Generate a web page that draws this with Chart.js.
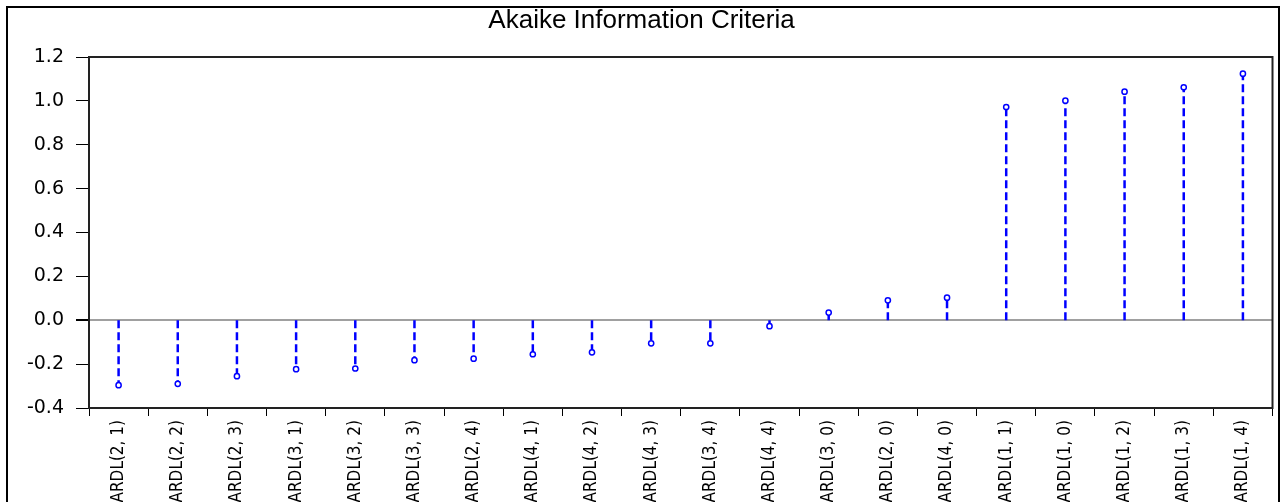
<!DOCTYPE html>
<html>
<head>
<meta charset="utf-8">
<script src="https://cdn.jsdelivr.net/npm/chart.js@4"></script>
<style>
  html, body { margin: 0; padding: 0; background: #fff; overflow: hidden; }
  #frame { position: absolute; left: 6px; top: 6px; width: 1270px; height: 540px; border: 2px solid #000; }
  canvas { display: block; }
</style>
</head>
<body>
<div id="frame"><canvas id="chart" width="1270" height="540"></canvas></div>
<script>
// modelos ARDL ordenados por AIC
const modelos = ['ARDL(2, 1)', 'ARDL(2, 2)', 'ARDL(2, 3)', 'ARDL(3, 1)', 'ARDL(3, 2)',
  'ARDL(3, 3)', 'ARDL(2, 4)', 'ARDL(4, 1)', 'ARDL(4, 2)', 'ARDL(4, 3)',
  'ARDL(3, 4)', 'ARDL(4, 4)', 'ARDL(3, 0)', 'ARDL(2, 0)', 'ARDL(4, 0)',
  'ARDL(1, 1)', 'ARDL(1, 0)', 'ARDL(1, 2)', 'ARDL(1, 3)', 'ARDL(1, 4)'];
const aic = [-0.296, -0.290, -0.255, -0.223, -0.220,
  -0.182, -0.175, -0.155, -0.146, -0.105,
  -0.105, -0.027, 0.035, 0.091, 0.103,
  0.972, 1.001, 1.042, 1.062, 1.124];
const yTicks = [-0.4, -0.2, 0.0, 0.2, 0.4, 0.6, 0.8, 1.0, 1.2];

// lineas verticales: 0 -> valor, con null para cortar
const stems = [];
modelos.forEach((m, i) => {
  stems.push({ x: m, y: 0 });
  stems.push({ x: m, y: aic[i] });
  stems.push({ x: m, y: null });
});

// marco del area del grafico
const boxPlugin = {
  id: 'box',
  afterDraw(chart) {
    const a = chart.chartArea;
    const c = chart.ctx;
    c.save();
    c.strokeStyle = '#222';
    c.lineWidth = 2;
    c.strokeRect(a.left, a.top, a.right - a.left, a.bottom - a.top);
    c.restore();
  }
};

const ctx = document.getElementById('chart').getContext('2d');
const myChart = new Chart(ctx, {
  type: 'line',
  data: {
    labels: modelos,
    datasets: [
      {
        data: aic,
        showLine: false,
        pointStyle: 'circle',
        pointRadius: 2.6,
        pointBorderWidth: 1.5,
        pointBorderColor: '#0000ff',
        pointBackgroundColor: '#fff',
        order: 0
      },
      {
        data: stems,
        borderColor: '#0000ff',
        borderWidth: 2.5,
        borderDash: [8, 4],
        pointRadius: 0,
        spanGaps: false,
        order: 1
      }
    ]
  },
  plugins: [boxPlugin],
  options: {
    responsive: false,
    animation: false,
    layout: { padding: { top: 0, right: 3, left: 0, bottom: 0 } },
    plugins: {
      legend: { display: false },
      tooltip: { enabled: false },
      title: {
        display: true,
        text: 'Akaike Information Criteria',
        color: '#000',
        font: { family: 'Liberation Sans', size: 26, weight: 'normal', lineHeight: 1 },
        padding: { top: 0, bottom: 23 }
      }
    },
    scales: {
      x: {
        type: 'category',
        offset: true,
        grid: { offset: true, drawOnChartArea: false, tickLength: 8, tickColor: '#000' },
        border: { display: false },
        ticks: {
          autoSkip: false,
          maxRotation: 90,
          minRotation: 90,
          padding: 4,
          color: '#000',
          font: { family: '"DejaVu Sans Condensed", "Liberation Sans", sans-serif', size: 17 }
        },
        afterFit(scale) { scale.height = 140; }
      },
      y: {
        min: -0.4,
        max: 1.2,
        afterBuildTicks(scale) { scale.ticks = yTicks.map(v => ({ value: v })); },
        grid: {
          color: c => (c.tick && c.tick.value === 0 ? '#a0a0a0' : 'rgba(0,0,0,0)'),
          lineWidth: c => (c.tick && c.tick.value === 0 ? 2 : 1),
          tickColor: '#000',
          tickLength: 13
        },
        border: { display: false },
        ticks: {
          padding: 12,
          color: '#000',
          font: { family: 'DejaVu Sans', size: 19 },
          callback: v => v.toFixed(1)
        },
        afterFit(scale) { scale.width = 81; }
      }
    }
  }
});
</script>
</body>
</html>
